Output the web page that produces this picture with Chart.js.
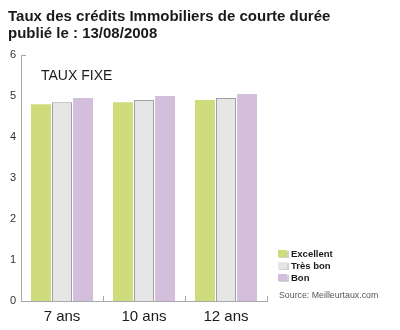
<!DOCTYPE html>
<html>
<head>
<meta charset="utf-8">
<script src="https://cdn.jsdelivr.net/npm/chart.js@4.4.1/dist/chart.umd.min.js"></script>
<style>
  html, body { margin: 0; padding: 0; background: #fff; }
  #wrap { width: 400px; height: 330px; position: relative; }
</style>
</head>
<body>
<div id="wrap"><canvas id="chart" width="400" height="330"></canvas></div>
<script>
const categories = ['7 ans', '10 ans', '12 ans'];
const seriesNames = ['Excellent', 'Très bon', 'Bon'];
const excellent = [4.8, 4.85, 4.9];
const tresBon = [4.85, 4.9, 4.95];
const bon = [4.95, 5.0, 5.05];
const yTicks = [0, 1, 2, 3, 4, 5, 6];

const titleLines = ['Taux des crédits Immobiliers de courte durée', 'publié le : 13/08/2008'];
const subTitle = 'TAUX FIXE';
const sourceText = 'Source: Meilleurtaux.com';

const AXIS = '#a8a8a8';

// title, "TAUX FIXE", small axis ticks, legend and source line
const decor = {
  id: 'decor',
  afterDraw(chart) {
    const ctx = chart.ctx;
    const area = chart.chartArea;
    const x = chart.scales.x;
    const y = chart.scales.y;
    ctx.save();

    ctx.fillStyle = '#1a1a1a';
    ctx.font = 'bold 15px "Liberation Sans", Arial, sans-serif';
    ctx.textBaseline = 'alphabetic';
    ctx.textAlign = 'left';
    ctx.fillText(titleLines[0], 8, 21);
    ctx.fillText(titleLines[1], 8, 37.5);

    ctx.font = '14px "Liberation Sans", Arial, sans-serif';
    ctx.fillStyle = '#1a1a1a';
    ctx.fillText(subTitle, 41, 80);

    // small tick marks
    ctx.strokeStyle = AXIS;
    ctx.lineWidth = 1;
    ctx.beginPath();
    const yTop = Math.round(y.getPixelForValue(6)) + 0.5;
    ctx.moveTo(area.left, yTop);
    ctx.lineTo(area.left + 5, yTop);
    const half = (x.getPixelForValue(1) - x.getPixelForValue(0)) / 2;
    for (let i = 0; i < categories.length; i++) {
      const px = Math.round(x.getPixelForValue(i) + half) + 0.5;
      ctx.moveTo(px, area.bottom);
      ctx.lineTo(px, area.bottom - 5);
    }
    ctx.stroke();

    // legend
    ctx.font = 'bold 9.5px "Liberation Sans", Arial, sans-serif';
    ctx.textBaseline = 'middle';
    chart.data.datasets.forEach((ds, i) => {
      const ly = 254 + i * 12;
      ctx.fillStyle = '#d0d0d0';
      ctx.fillRect(279, ly - 3, 10, 7);
      ctx.fillStyle = ds.backgroundColor;
      ctx.fillRect(278, ly - 4, 9, 7);
      ctx.fillStyle = '#1a1a1a';
      ctx.fillText(ds.label, 291, ly);
    });

    ctx.font = '8.8px "Liberation Sans", Arial, sans-serif';
    ctx.fillStyle = '#555';
    ctx.fillText(sourceText, 279, 296);
    ctx.restore();
  }
};

new Chart(document.getElementById('chart'), {
  type: 'bar',
  data: {
    labels: categories,
    datasets: [
      { label: seriesNames[0], data: excellent, backgroundColor: '#cfdc7b', borderWidth: 0 },
      { label: seriesNames[1], data: tresBon, backgroundColor: '#e6e6e6', borderColor: '#a0a0a0', borderWidth: 1 },
      { label: seriesNames[2], data: bon, backgroundColor: '#d3bfdb', borderWidth: 0 }
    ]
  },
  options: {
    responsive: false,
    animation: false,
    layout: { padding: { top: 55, right: 133, left: 0, bottom: 0 } },
    datasets: {
      bar: { categoryPercentage: 0.77, barPercentage: 0.95 }
    },
    plugins: {
      legend: { display: false },
      tooltip: { enabled: false }
    },
    scales: {
      x: {
        afterFit(scale) { scale.height = 29; },
        grid: { display: false, drawTicks: false },
        border: { display: true, color: AXIS, width: 1 },
        ticks: {
          color: '#1a1a1a',
          padding: 7,
          font: { family: '"Liberation Sans", Arial, sans-serif', size: 15 }
        }
      },
      y: {
        min: 0,
        max: 6,
        afterFit(scale) { scale.width = 21; },
        afterBuildTicks(scale) { scale.ticks = yTicks.map(v => ({ value: v })); },
        grid: { display: false, drawTicks: false },
        border: { display: true, color: AXIS, width: 1 },
        ticks: {
          color: '#333',
          padding: 5,
          font: { family: '"Liberation Sans", Arial, sans-serif', size: 11 }
        }
      }
    }
  },
  plugins: [decor]
});
</script>
</body>
</html>
